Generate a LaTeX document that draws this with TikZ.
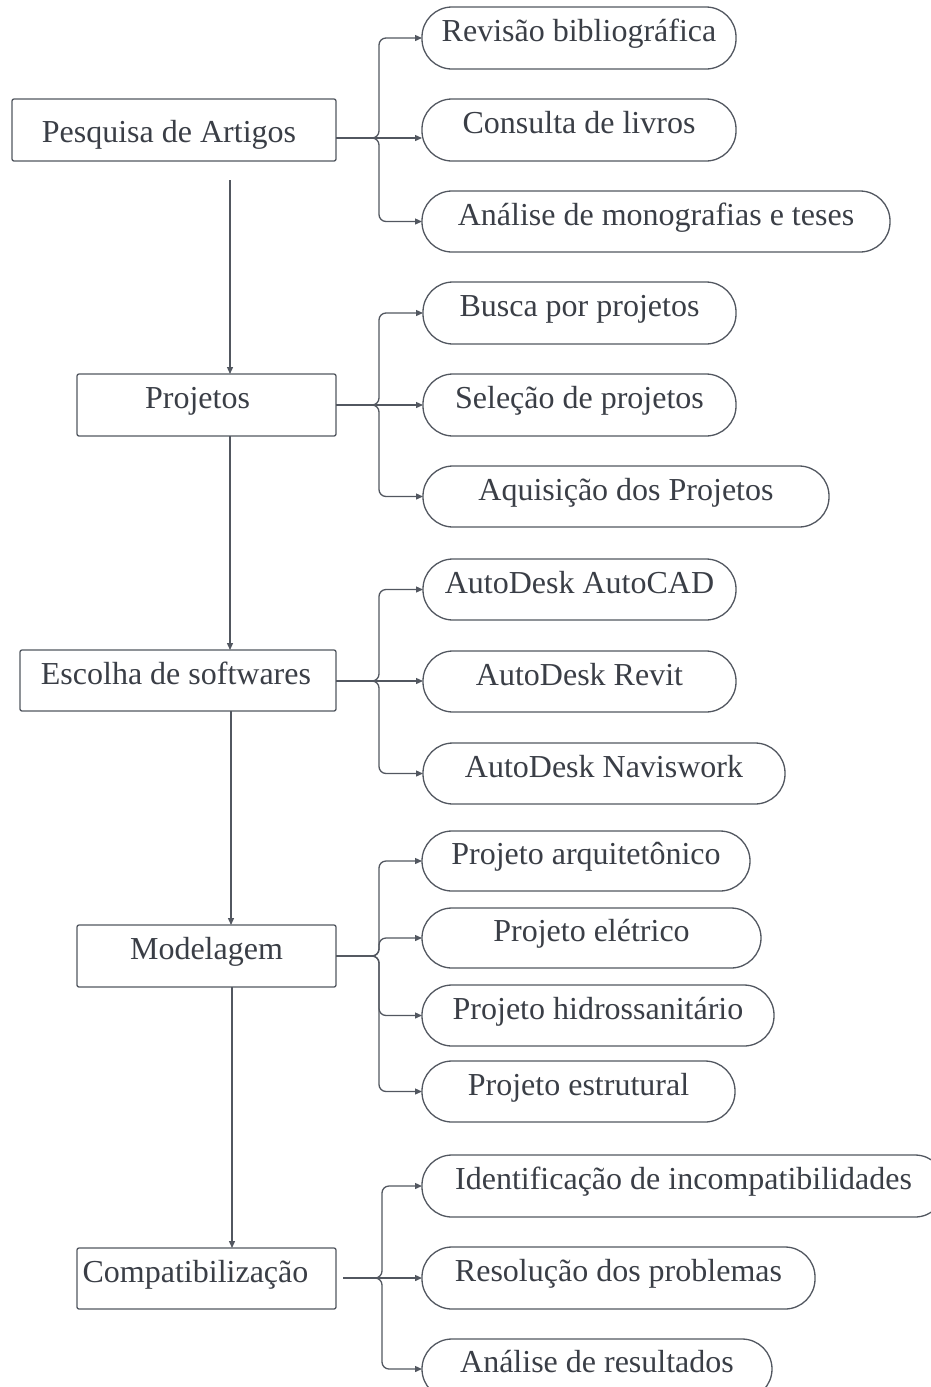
\documentclass[tikz,border=0pt]{standalone}
\usepackage{fontspec}
\setmainfont{Liberation Serif}
\usetikzlibrary{arrows.meta,calc}
\definecolor{lncol}{RGB}{82,87,96}
\definecolor{txcol}{RGB}{58,62,70}
\begin{document}
\begin{tikzpicture}[x=1pt,y=-1pt,
  every node/.style={inner sep=0pt, outer sep=0pt, text=txcol,
    font=\fontsize{32pt}{38pt}\selectfont, text height=22pt, text depth=14.8pt},
  stepbox/.style={draw=lncol, line width=1.3pt, rounded corners=2pt},
  pill/.style={draw=lncol, line width=1.3pt, rounded corners=30pt},
  conn/.style={draw=lncol, line width=1.3pt, rounded corners=7pt,
    -{Triangle[length=7pt,width=6pt]}},
  down/.style={draw=lncol, line width=1.3pt, -{Triangle[length=7pt,width=6pt]}}
]
\useasboundingbox (0,0) rectangle (931,1387);
\clip (0,0) rectangle (931,1387);

% main boxes
\node[stepbox, minimum width=324pt, minimum height=62pt, text height=26pt, text depth=0.8pt] (B1) at (174,130) {\hspace*{-10pt}Pesquisa de Artigos};
\node[stepbox, minimum width=259pt, minimum height=62pt] (B2) at (206.5,405) {\hspace*{-18pt}Projetos};
\node[stepbox, minimum width=316pt, minimum height=61pt] (B3) at (178,680.5) {\hspace*{-4pt}Escolha de softwares};
\node[stepbox, minimum width=259pt, minimum height=62pt] (B4) at (206.5,956) {Modelagem};
\node[stepbox, minimum width=259pt, minimum height=61pt] (B5) at (206.5,1278.5) {\hspace*{-22pt}Compatibilização};

% pills
\node[pill, minimum width=314pt, minimum height=62pt] (P11) at (579,38) {Revisão bibliográfica};
\node[pill, minimum width=314pt, minimum height=62pt] (P12) at (579,130) {Consulta de livros};
\node[pill, minimum width=468pt, minimum height=61pt] (P13) at (656,221.5) {Análise de monografias e teses};

\node[pill, minimum width=313pt, minimum height=62pt] (P21) at (579.5,313) {Busca por projetos};
\node[pill, minimum width=313pt, minimum height=62pt] (P22) at (579.5,405) {Seleção de projetos};
\node[pill, minimum width=406pt, minimum height=61pt] (P23) at (626,496.5) {Aquisição dos Projetos};

\node[pill, minimum width=313pt, minimum height=61pt] (P31) at (579.5,589.5) {AutoDesk AutoCAD};
\node[pill, minimum width=313pt, minimum height=61pt] (P32) at (579.5,681.5) {AutoDesk Revit};
\node[pill, minimum width=362pt, minimum height=61pt] (P33) at (604,773.5) {AutoDesk Naviswork};

\node[pill, minimum width=328pt, minimum height=60pt] (P41) at (586,861) {Projeto arquitetônico};
\node[pill, minimum width=339pt, minimum height=60pt] (P42) at (591.5,938) {Projeto elétrico};
\node[pill, minimum width=352pt, minimum height=61pt] (P43) at (598,1015.5) {Projeto hidrossanitário};
\node[pill, minimum width=313pt, minimum height=61pt] (P44) at (578.5,1091.5) {Projeto estrutural};

\node[pill, minimum width=523pt, minimum height=62pt] (P51) at (683.5,1186) {Identificação de incompatibilidades};
\node[pill, minimum width=393pt, minimum height=62pt] (P52) at (618.5,1278) {Resolução dos problemas};
\node[pill, minimum width=350pt, minimum height=60pt] (P53) at (597,1369) {Análise de resultados};

% branch points
\coordinate (v1) at (379,138);
\coordinate (v2) at (379,405);
\coordinate (v3) at (379,681);
\coordinate (v4) at (379,956);
\coordinate (v5) at (382,1278);

% group 1
\draw[conn] (B1.east |- v1) -- (v1) |- (P11.west);
\draw[conn] (B1.east |- v1) -- (v1 -| P12.west);
\draw[conn] (B1.east |- v1) -- (v1) |- (P13.west);
% group 2
\draw[conn] (B2.east |- v2) -- (v2) |- (P21.west);
\draw[conn] (B2.east |- v2) -- (v2 -| P22.west);
\draw[conn] (B2.east |- v2) -- (v2) |- (P23.west);
% group 3
\draw[conn] (B3.east |- v3) -- (v3) |- (P31.west);
\draw[conn] (B3.east |- v3) -- (v3 -| P32.west);
\draw[conn] (B3.east |- v3) -- (v3) |- (P33.west);
% group 4
\draw[conn] (B4.east |- v4) -- (v4) |- (P41.west);
\draw[conn] (B4.east |- v4) -- (v4) |- (P42.west);
\draw[conn] (B4.east |- v4) -- (v4) |- (P43.west);
\draw[conn] (B4.east |- v4) -- (v4) |- (P44.west);
% group 5
\draw[conn] ([xshift=7pt]B5.east |- v5) -- (v5) |- (P51.west);
\draw[conn] ([xshift=7pt]B5.east |- v5) -- (v5 -| P52.west);
\draw[conn] ([xshift=7pt]B5.east |- v5) -- (v5) |- (P53.west);

% vertical flow
\coordinate (a1) at (230,180);
\draw[down] (a1) -- (a1 |- B2.north);
\draw[down] ([xshift=23.5pt]B2.south) -- ([xshift=23.5pt]B2.south |- B3.north);
\draw[down] ([xshift=53pt]B3.south) -- ([xshift=53pt]B3.south |- B4.north);
\draw[down] ([xshift=25.5pt]B4.south) -- ([xshift=25.5pt]B4.south |- B5.north);
\end{tikzpicture}
\end{document}
